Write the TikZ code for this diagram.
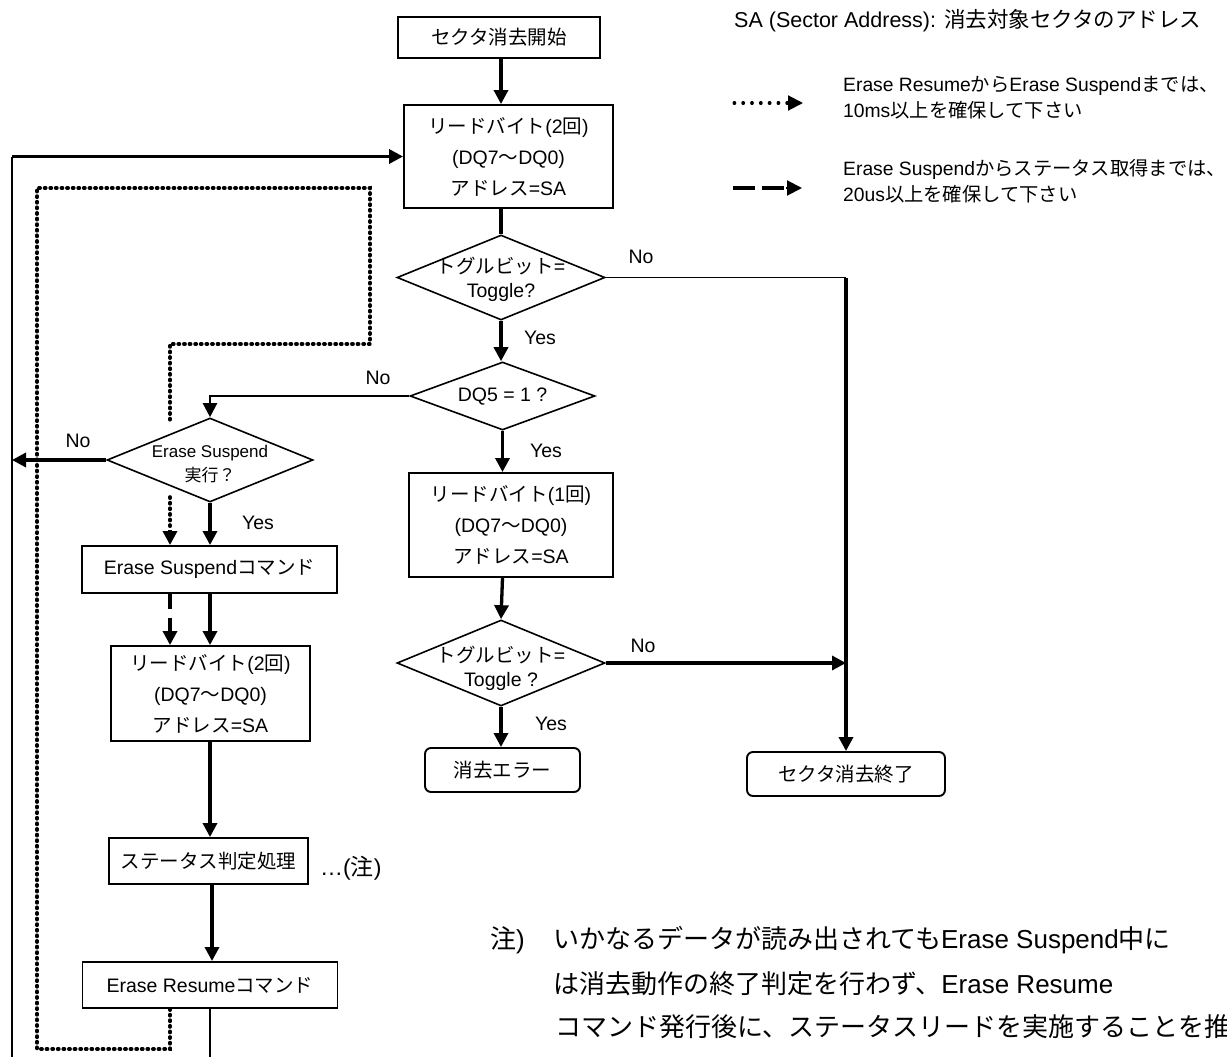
\documentclass[tikz,border=0pt]{standalone}
\usepackage{fontspec}
\setmainfont{Liberation Sans}
\newfontfamily\jp{Noto Sans CJK JP}
\usetikzlibrary{arrows.meta,shapes.geometric}
\newcommand{\J}[1]{{\jp #1}}
\begin{document}
\begin{tikzpicture}[x=1pt,y=-1pt,
 box/.style={draw,line width=1.9pt,rectangle,inner sep=0pt,align=center,font=\fontsize{19.5}{31}\selectfont},
 rbox/.style={box,rounded corners=6pt},
 dia/.style={draw,line width=1.6pt,diamond,inner sep=0pt},
 dtxt/.style={align=center,inner sep=0pt,font=\fontsize{19.5}{24}\selectfont},
 lbl/.style={inner sep=0pt,font=\fontsize{19.5}{20}\selectfont},
 thk/.style={line width=3.3pt},
 med/.style={line width=2.3pt},
 thn/.style={line width=1.8pt},
 tip/.style={-{Triangle[length=14pt,width=14pt]}},
 dots/.style={line width=3.6pt,line cap=round,dash pattern=on 1.2pt off 4.4pt},
 dsh/.style={line width=4pt,dash pattern=on 15pt off 9pt},
 leg/.style={inner sep=0pt,anchor=west,align=left,font=\fontsize{19.3}{26}\selectfont},
 note/.style={inner sep=0pt,anchor=west,font=\fontsize{26}{26}\selectfont},
]
\useasboundingbox (0,0) rectangle (1227,1057);
% main column
\node[box,minimum width=202,minimum height=41] (start) at (499,37.5) {\J{セクタ消去開始}};
\node[box,minimum width=209,minimum height=103] (box2) at (508.5,156.5) {\J{リードバイト}(2\J{回})\\(DQ7\J{〜}DQ0)\\\J{アドレス}=SA};
\node[dia,minimum width=208,minimum height=85] (d1) at (501,277.5) {};
\node[dtxt] (d1t) at (501,279) {\J{トグルビット}=\\Toggle?};
\node[dia,minimum width=185,minimum height=68] (dq5) at (502.5,396) {};
\node[dtxt] (dq5t) at (502.5,397) {DQ5 = 1 ?};
\node[box,minimum width=204,minimum height=104] (box4) at (511,525) {\J{リードバイト}(1\J{回})\\(DQ7\J{〜}DQ0)\\\J{アドレス}=SA};
\node[dia,minimum width=208,minimum height=86] (d2) at (501,663) {};
\node[dtxt] (d2t) at (501,668) {\J{トグルビット}=\\Toggle ?};
\node[rbox,minimum width=155,minimum height=44] (err) at (502.5,770) {\J{消去エラー}};
\node[rbox,minimum width=198,minimum height=44] (fin) at (846,774) {\J{セクタ消去終了}};
% left column
\node[dia,minimum width=206,minimum height=84] (des) at (210,460) {};
\node[dtxt,font=\fontsize{17}{24}\selectfont] (dest) at (210,464) {Erase Suspend\\\J{実行？}};
\node[box,minimum width=255,minimum height=47] (esc) at (209.5,569.5) {Erase Suspend\J{コマンド}};
\node[box,minimum width=199,minimum height=95] (box3) at (210.5,693.5) {\J{リードバイト}(2\J{回})\\(DQ7\J{〜}DQ0)\\\J{アドレス}=SA};
\node[box,minimum width=199,minimum height=46] (stat) at (208.5,861) {\J{ステータス判定処理}};
\node[box,minimum width=255,minimum height=46] (res) at (210,985) {Erase Resume\J{コマンド}};
\node[lbl,anchor=west,font=\fontsize{23}{24}\selectfont] (chu) at (320,868) {\dots(\J{注})};
% labels
\node[lbl] (n1) at (641,257) {No};
\node[lbl] (y1) at (540,338) {Yes};
\node[lbl] (n2) at (378,378) {No};
\node[lbl] (y2) at (546,451) {Yes};
\node[lbl] (n3) at (643,646) {No};
\node[lbl] (y3) at (551,724) {Yes};
\node[lbl] (n4) at (78,441) {No};
\node[lbl] (y4) at (258,523) {Yes};
% connectors main
\draw[thk,tip] (start.south -| d1.north) -- (box2.north -| d1.north);
\draw[thk] (box2.south -| d1.north) -- (d1.north);
\coordinate (c1) at (fin.north |- d1.east);
\draw[thn] (d1.east) -- (c1);
\draw[thk,tip] (c1) -- (fin.north);
\draw[thk,tip] (d1.south) -- (d1.south |- dq5.north);
\draw[med,tip] (dq5.west) -| (des.north);
\draw[thk,tip] (dq5.south) -- (dq5.south |- box4.north);
\draw[thk,tip] (box4.south -| dq5.south) -- (d2.north);
\draw[thk,tip] (d2.east) -- (d2.east -| fin.north);
\draw[thk,tip] (d2.south) -- (d2.south |- err.north);
% connectors left
\coordinate (L1) at (12,460);
\draw[thk,tip] (des.west) -- (L1);
\draw[thk,tip] (des.south) -- (des.south |- esc.north);
\coordinate (dt1) at (170,497);
\draw[dots] (dt1) -- (170,528);
\draw[thk,tip] (170,530) -- (dt1 |- esc.north);
\draw[dsh] (esc.south -| dt1) -- (170,631);
\draw[thk,tip] (170,630) -- (box3.north -| dt1);
\draw[thk,tip] (esc.south -| des.south) -- (box3.north -| des.south);
\draw[thk,tip] (box3.south -| des.south) -- (stat.north -| des.south);
\draw[thk,tip] (stat.south -| 212,0) -- (res.north -| 212,0);
\coordinate (L2) at (12,156.5);
\draw[thn] (res.south) -- (res.south |- 0,1080) -| (L2);
\draw[thk,tip] (L2) -- (box2.west);
\draw[dots] (res.south -| dt1) -- (170,1049) -- (37,1049) -- (37,188) -- (370,188) -- (370,344) -- (170,344) -- (170,420);
% legend
\node[leg,font=\fontsize{21.5}{24}\selectfont] (sa) at (734,21) {SA (Sector Address): \J{消去対象セクタのアドレス}};
\coordinate (la) at (734,103);
\coordinate (lb) at (788,103);
\draw[line width=3pt,line cap=round,dash pattern=on 0.8pt off 8pt] (la) -- (lb);
\draw[line width=2pt,-{Triangle[length=15pt,width=15pt]}] (787,103) -- (803,103);
\node[leg] (lt1) at (843,98) {Erase Resume\J{から}Erase Suspend\J{までは、}\\10ms\J{以上を確保して下さい}};
\coordinate (lc) at (733,188);
\draw[line width=4pt,dash pattern=on 22pt off 7pt] (lc) -- (784,188);
\draw[line width=2pt,-{Triangle[length=15pt,width=15pt]}] (786,188) -- (802,188);
\node[leg] (lt2) at (843,181) {Erase Suspend\J{からステータス取得までは、}\\20us\J{以上を確保して下さい}};
% note
\node[note] (nt0) at (490,940) {\J{注})};
\node[note] (nt1) at (553,940) {\J{いかなるデータが読み出されても}Erase Suspend\J{中に}};
\node[note] (nt2) at (553,984) {\J{は消去動作の終了判定を行わず、}Erase Resume};
\node[note] (nt3) at (555,1027) {\J{コマンド発行後に、ステータスリードを実施することを推}};
\end{tikzpicture}
\end{document}
